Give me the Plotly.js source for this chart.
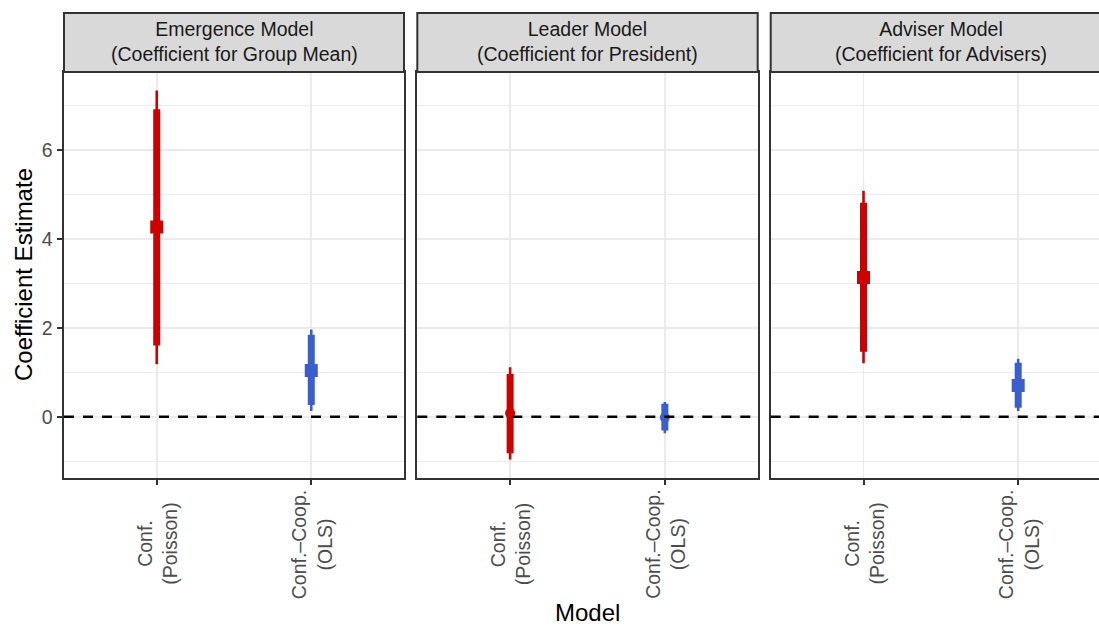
<!DOCTYPE html>
<html>
<head>
<meta charset="utf-8">
<script src="https://cdn.plot.ly/plotly-3.0.1.min.js"></script>
<style>
html,body{margin:0;padding:0;overflow:hidden;background:#fff;}
#chart{width:1112px;height:626px;}
</style>
</head>
<body>
<div id="chart"></div>
<script>
// ---- data ----
const panelTitles = [
  "Emergence Model<br>(Coefficient for Group Mean)",
  "Leader Model<br>(Coefficient for President)",
  "Adviser Model<br>(Coefficient for Advisers)"
];
const modelLabels = ["Conf.<br>(Poisson)", "Conf.\u2013Coop.<br>(OLS)"];
// per panel: [Poisson, OLS]
const estimate = [[4.26, 1.04], [0.08, -0.02], [3.13, 0.70]];
const lo95 = [[1.18, 0.13], [-0.96, -0.37], [1.20, 0.13]];
const hi95 = [[7.33, 1.96], [1.11, 0.33], [5.08, 1.30]];
const lo90 = [[1.60, 0.26], [-0.82, -0.31], [1.46, 0.20]];
const hi90 = [[6.91, 1.84], [0.96, 0.29], [4.81, 1.21]];
const significant = [[true, true], [false, false], [true, true]];
const modelColors = ["#CD0000", "#3A5FCD"];

// ---- layout geometry ----
const W = 1112, H = 626;
const px = v => v / W;
const py = v => (H - v) / H;
const domains = [[px(64), px(404)], [px(417.3), px(757.7)], [px(770.7), px(1111)]];
const yDomain = [py(477.7), py(72)];
const stripTop = py(13);

const traces = [];
const catX = [1, 2];
for (let p = 0; p < 3; p++) {
  const xa = p === 0 ? 'x' : 'x' + (p + 1);
  const ya = p === 0 ? 'y' : 'y' + (p + 1);
  for (let m = 0; m < 2; m++) {
    const c = modelColors[m];
    traces.push({x: [catX[m], catX[m]], y: [lo95[p][m], hi95[p][m]], xaxis: xa, yaxis: ya,
      mode: 'lines', line: {color: c, width: 2.6}, hoverinfo: 'skip', showlegend: false});
    traces.push({x: [catX[m], catX[m]], y: [lo90[p][m], hi90[p][m]], xaxis: xa, yaxis: ya,
      mode: 'lines', line: {color: c, width: 7}, hoverinfo: 'skip', showlegend: false});
    traces.push({x: [catX[m]], y: [estimate[p][m]], xaxis: xa, yaxis: ya, mode: 'markers',
      marker: {color: c, symbol: significant[p][m] ? 'square' : 'circle',
               size: significant[p][m] ? 13 : 10, line: {width: 0}},
      showlegend: false});
  }
}

const layout = {
  width: W, height: H,
  margin: {l: 0, r: 0, t: 0, b: 0},
  paper_bgcolor: '#ffffff', plot_bgcolor: '#ffffff',
  font: {family: 'Liberation Sans, Arial, sans-serif', color: '#4d4d4d'},
  showlegend: false,
  shapes: [], annotations: []
};

for (let p = 0; p < 3; p++) {
  const sfx = p === 0 ? '' : String(p + 1);
  layout['xaxis' + sfx] = {
    domain: domains[p], anchor: 'y' + sfx, range: [0.4, 2.6],
    tickvals: catX, showticklabels: false, ticks: 'outside', ticklen: 5.5, tickwidth: 2, tickcolor: '#333333',
    showgrid: true, gridcolor: '#ebebeb', gridwidth: 1.8, zeroline: false,
    showline: true, linecolor: '#333333', linewidth: 2, mirror: true, fixedrange: true
  };
  layout['yaxis' + sfx] = {
    domain: yDomain, anchor: 'x' + sfx, range: [-1.371, 7.746],
    tickvals: [0, 2, 4, 6], ticktext: ['0', '2', '4', '6'],
    showticklabels: p === 0, ticks: p === 0 ? 'outside' : '', ticklen: 5.5, tickwidth: 2, tickcolor: '#333333',
    tickfont: {size: 19.5, color: '#4d4d4d'},
    showgrid: true, gridcolor: '#ebebeb', gridwidth: 1.8, zeroline: false,
    minor: {tickvals: [-1, 1, 3, 5, 7], showgrid: true, gridcolor: '#ebebeb', gridwidth: 0.9, ticks: ''},
    showline: true, linecolor: '#333333', linewidth: 2, mirror: true, fixedrange: true
  };
  // dashed zero line
  layout.shapes.push({type: 'line', xref: 'x' + sfx + ' domain', yref: 'y' + sfx,
    x0: 0, x1: 1, y0: 0, y1: 0, line: {color: '#000000', width: 2.4, dash: '10px,9px'}, layer: 'above'});
  // strip
  layout.shapes.push({type: 'rect', xref: 'paper', yref: 'paper',
    x0: domains[p][0], x1: domains[p][1], y0: yDomain[1], y1: stripTop,
    fillcolor: '#d9d9d9', line: {color: '#333333', width: 2}, layer: 'above'});
  layout.annotations.push({xref: 'paper', yref: 'paper',
    x: (domains[p][0] + domains[p][1]) / 2, y: py(41.5),
    xanchor: 'center', yanchor: 'middle', showarrow: false, align: 'center',
    text: panelTitles[p], font: {size: 19.5, color: '#1a1a1a'}});
  // x tick labels (rotated, centred)
  for (let m = 0; m < 2; m++) {
    layout.annotations.push({xref: 'x' + sfx, yref: 'paper', x: catX[m], y: py(544),
      xanchor: 'center', yanchor: 'middle', textangle: -90, showarrow: false, align: 'center',
      text: modelLabels[m], font: {size: 19.5, color: '#4d4d4d'}});
  }
}

// axis titles
layout.annotations.push({xref: 'paper', yref: 'paper', x: px(587.5), y: py(612),
  xanchor: 'center', yanchor: 'middle', showarrow: false, text: 'Model',
  font: {size: 24, color: '#000000'}});
layout.annotations.push({xref: 'paper', yref: 'paper', x: px(23), y: py(275),
  xanchor: 'center', yanchor: 'middle', showarrow: false, textangle: -90,
  text: 'Coefficient Estimate', font: {size: 24, color: '#000000'}});

Plotly.newPlot('chart', traces, layout, {displayModeBar: false, responsive: false, staticPlot: true});
</script>
</body>
</html>
